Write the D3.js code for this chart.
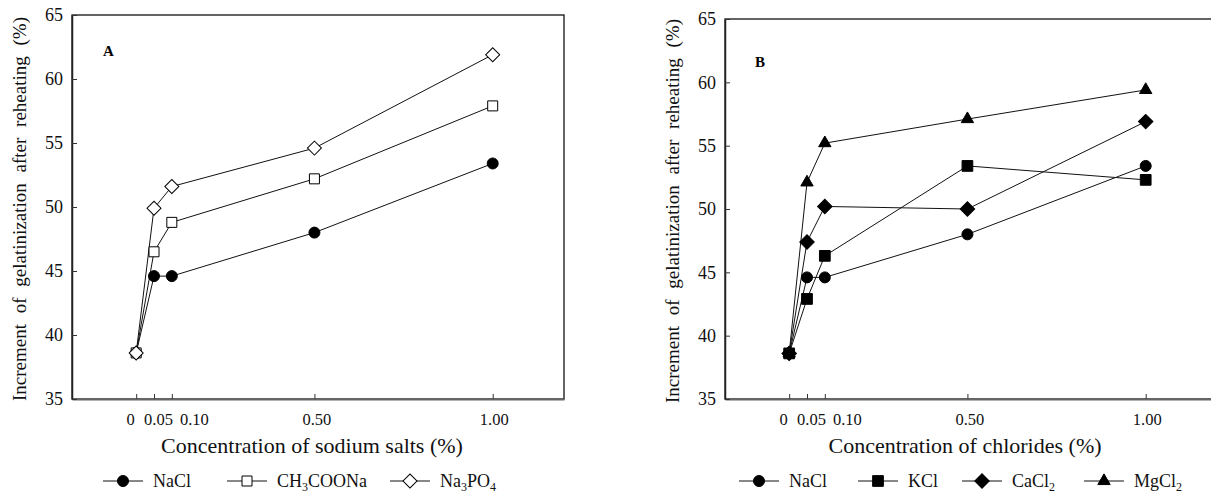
<!DOCTYPE html>
<html>
<head>
<meta charset="utf-8">
<script src="https://cdn.jsdelivr.net/npm/d3@7"></script>
<style>
	body { margin: 0; background: #fff; }
	svg, svg text { font-family: "Liberation Serif", "Times New Roman", Times, "DejaVu Serif", serif; }
</style>
</head>
<body>
<svg id="chart"></svg>
<script>
// concentrations (%)
let conc = [0, 0.05, 0.10, 0.50, 1.00];
let xTickLabels = ["0", "0.05", "0.10", "0.50", "1.00"];
let yTicks = [35, 40, 45, 50, 55, 60, 65];

// panel A - sodium salts
let saltNames = ["NaCl", "CH_3COONa", "Na_3PO_4"];
let naclA = [38.6, 44.6, 44.6, 48.0, 53.4];
let ch3coona = [38.6, 46.5, 48.8, 52.2, 57.9];
let na3po4 = [38.6, 49.9, 51.6, 54.6, 61.9];

// panel B - chlorides
let chlorideNames = ["NaCl", "KCl", "CaCl_2", "MgCl_2"];
let naclB = [38.6, 44.6, 44.6, 48.0, 53.4];
let kcl = [38.6, 42.9, 46.3, 53.4, 52.3];
let cacl2 = [38.6, 47.4, 50.2, 50.0, 56.9];
let mgcl2 = [38.6, 52.1, 55.2, 57.1, 59.4];

let serif = '"Liberation Serif", "Times New Roman", Times, "DejaVu Serif", serif';
let w = 1211;
let h = 493;

// x tick labels are nudged sideways in the original so they don't collide
let tickShift = [-6, 4, 22, 2, 1];

let svg = d3.select('#chart')
	.attr('width', w)
	.attr('height', h)
	.attr('font-family', serif);

// marker styles
let markers = {
	circleFilled: { type: d3.symbolCircle, size: 95, fill: '#000', rot: 0 },
	squareOpen: { type: d3.symbolSquare, size: 100, fill: '#fff', rot: 0 },
	diamondOpen: { type: d3.symbolSquare, size: 98, fill: '#fff', rot: 45 },
	squareFilled: { type: d3.symbolSquare, size: 115, fill: '#000', rot: 0 },
	diamondFilled: { type: d3.symbolSquare, size: 105, fill: '#000', rot: 45 },
	triangleFilled: { type: d3.symbolTriangle, size: 66, fill: '#000', rot: 0 }
};

function drawMarker(g, m, x, y) {
	g.append('path')
		.attr('d', d3.symbol().type(m.type).size(m.size)())
		.attr('transform', `translate(${x},${y}) rotate(${m.rot})`)
		.attr('fill', m.fill)
		.attr('stroke', '#000')
		.attr('stroke-width', 1);
}

function addLabel(textSel, label, subSize) {
	let parts = label.split(/_(\d)/);
	parts.forEach((p, i) => {
		if (p === '') return;
		if (i % 2 === 1) {
			textSel.append('tspan').attr('font-size', subSize).attr('dy', 4).text(p);
		} else {
			textSel.append('tspan').attr('dy', i > 0 ? -4 : 0).text(p);
		}
	});
}

function makePanel(opt) {
	let g = svg.append('g');

	let xScale = d3.scaleLinear()
		.domain([-0.18, 1.2])
		.range([opt.left, opt.right]);

	let yScale = d3.scaleLinear()
		.domain([35, 65])
		.range([opt.bottom, opt.top]);

	// frame (top + right)
	g.append('rect')
		.attr('x', opt.left)
		.attr('y', opt.top)
		.attr('width', opt.right - opt.left)
		.attr('height', opt.bottom - opt.top)
		.attr('fill', 'none')
		.attr('stroke', '#111')
		.attr('stroke-width', 1.3);

	//AXES
	let xAxis = d3.axisBottom(xScale)
		.tickValues(conc)
		.tickFormat((d, i) => xTickLabels[i])
		.tickSizeInner(-5)
		.tickSizeOuter(0)
		.tickPadding(14);

	let yAxis = d3.axisLeft(yScale)
		.tickValues(yTicks)
		.tickSizeInner(-5)
		.tickSizeOuter(0)
		.tickPadding(9);

	let gx = g.append('g')
		.attr('transform', `translate(0, ${opt.bottom})`)
		.call(xAxis)
		.attr('font-family', serif);
	gx.select('.domain').attr('stroke', '#666').attr('stroke-width', 1.8);
	gx.selectAll('.tick line').attr('stroke', '#333');
	gx.selectAll('.tick text')
		.attr('font-size', 16.5)
		.attr('dx', (d, i) => tickShift[i])
		.attr('fill', '#111');

	let gy = g.append('g')
		.attr('transform', `translate(${opt.left}, 0)`)
		.call(yAxis)
		.attr('font-family', serif);
	gy.select('.domain').attr('stroke', '#222').attr('stroke-width', 1.5);
	gy.selectAll('.tick line').attr('stroke', '#333');
	gy.selectAll('.tick text')
		.attr('font-size', 18)
		.attr('fill', '#111');

	// series
	let line = d3.line()
		.x((d, i) => xScale(conc[i]))
		.y(d => yScale(d));

	opt.series.forEach(s => {
		g.append('path')
			.attr('d', line(s.values))
			.attr('fill', 'none')
			.attr('stroke', '#111')
			.attr('stroke-width', 1);
	});
	opt.series.forEach(s => {
		s.values.forEach((v, i) => drawMarker(g, s.marker, xScale(conc[i]), yScale(v)));
	});

	// panel letter
	g.append('text')
		.attr('x', opt.letterX)
		.attr('y', opt.letterY)
		.attr('font-weight', 'bold')
		.attr('font-size', 15)
		.text(opt.letter);

	//LABELS
	g.append('text')
		.attr('transform', `translate(${opt.yLabelX}, ${opt.yLabelY}) rotate(-90)`)
		.attr('text-anchor', 'middle')
		.attr('font-size', 19)
		.attr('word-spacing', 6)
		.attr('fill', '#111')
		.text('Increment of gelatinization after reheating (%)');

	g.append('text')
		.attr('x', opt.xLabelX)
		.attr('y', 453)
		.attr('text-anchor', 'middle')
		.attr('font-size', 22)
		.attr('fill', '#111')
		.text(opt.xLabel);

	// legend
	opt.series.forEach((s, i) => {
		let lx = opt.legendX[i];
		let ly = 481;
		g.append('line')
			.attr('x1', lx - 20).attr('x2', lx + 20)
			.attr('y1', ly).attr('y2', ly)
			.attr('stroke', '#111')
			.attr('stroke-width', 1);
		drawMarker(g, s.marker, lx, ly);
		let t = g.append('text')
			.attr('x', lx + 30)
			.attr('y', 487)
			.attr('font-size', 18)
			.attr('fill', '#111');
		addLabel(t, s.name, 12);
	});
}

makePanel({
	left: 72, right: 564, top: 15, bottom: 399,
	letter: 'A', letterX: 103, letterY: 56,
	yLabelX: 26, yLabelY: 209,
	xLabelX: 312, xLabel: 'Concentration of sodium salts (%)',
	legendX: [123, 247, 410],
	series: [
		{ name: saltNames[0], values: naclA, marker: markers.circleFilled },
		{ name: saltNames[1], values: ch3coona, marker: markers.squareOpen },
		{ name: saltNames[2], values: na3po4, marker: markers.diamondOpen }
	]
});

makePanel({
	left: 725, right: 1217, top: 19, bottom: 399,
	letter: 'B', letterX: 755, letterY: 67,
	yLabelX: 679, yLabelY: 211,
	xLabelX: 965, xLabel: 'Concentration of chlorides (%)',
	legendX: [759, 878, 982, 1104],
	series: [
		{ name: chlorideNames[0], values: naclB, marker: markers.circleFilled },
		{ name: chlorideNames[1], values: kcl, marker: markers.squareFilled },
		{ name: chlorideNames[2], values: cacl2, marker: markers.diamondFilled },
		{ name: chlorideNames[3], values: mgcl2, marker: markers.triangleFilled }
	]
});
</script>
</body>
</html>
